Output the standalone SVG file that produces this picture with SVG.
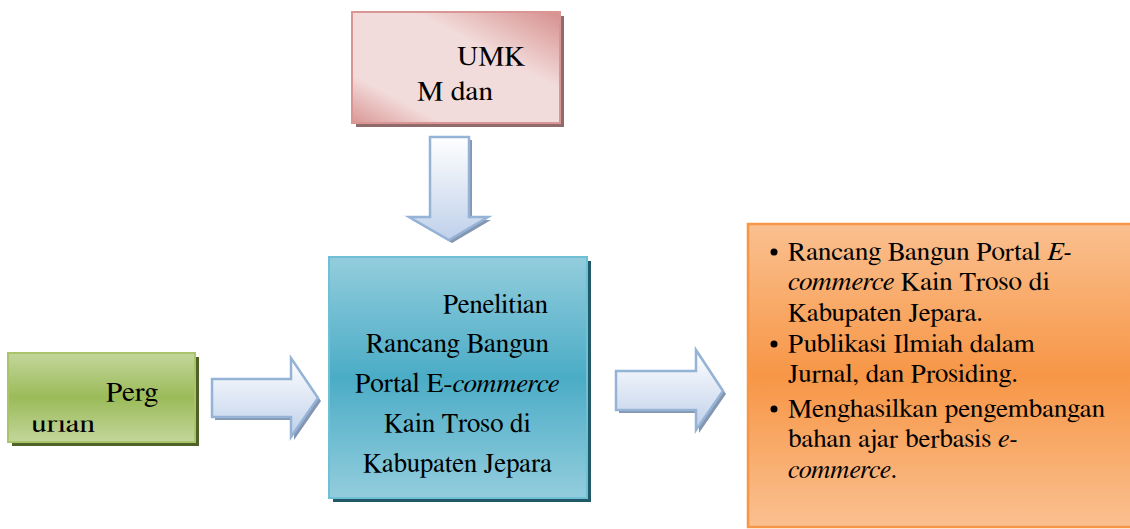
<svg xmlns="http://www.w3.org/2000/svg" width="1130" height="529" viewBox="0 0 1130 529">
<style>
text{fill:#000;font-family:FreeSerif,'DejaVu Serif Condensed','DejaVu Serif',serif}
.c{font-size:26.7px}
.o{font-size:26px}
.arrow{stroke:#95b3d7;stroke-width:2.5;stroke-linejoin:miter}
.ash{fill:#8496b0}
</style>
<defs>
<linearGradient id="gPink" x1="0" y1="1" x2="1" y2="0">
<stop offset="0" stop-color="#d99694"/>
<stop offset="0.22" stop-color="#f2dcdb"/>
<stop offset="0.65" stop-color="#f2dcdb"/>
<stop offset="1" stop-color="#d68f8d"/>
</linearGradient>
<linearGradient id="gGreen" x1="0" y1="0" x2="0" y2="1">
<stop offset="0" stop-color="#c3d69b"/>
<stop offset="0.5" stop-color="#9bbb59"/>
<stop offset="1" stop-color="#c3d69b"/>
</linearGradient>
<linearGradient id="gBlue" x1="0" y1="0" x2="0" y2="1">
<stop offset="0" stop-color="#93cddd"/>
<stop offset="0.5" stop-color="#4bacc6"/>
<stop offset="1" stop-color="#93cddd"/>
</linearGradient>
<linearGradient id="gOrange" x1="0" y1="0" x2="0" y2="1">
<stop offset="0" stop-color="#fac090"/>
<stop offset="0.5" stop-color="#f79646"/>
<stop offset="1" stop-color="#fac090"/>
</linearGradient>
<linearGradient id="gArrow" x1="0" y1="0" x2="0" y2="1">
<stop offset="0" stop-color="#ffffff"/>
<stop offset="1" stop-color="#bfd0ea"/>
</linearGradient>
<clipPath id="clipUrian"><rect x="20" y="420.5" width="100" height="14"/></clipPath>
</defs>

<g id="connectors">
<g id="arrow-down">
<polygon class="ash" points="433,140 472,140 472,220 491,220 452,243 412,220 433,220"/>
<polygon class="arrow" fill="url(#gArrow)" points="430,137 469,137 469,217 488,217 449,240 409,217 430,217"/>
</g>
<g id="arrow-left">
<polygon class="ash" points="215,382 294,382 294,361 321,401 294,440 294,420 215,420"/>
<polygon class="arrow" fill="url(#gArrow)" points="212,379 291,379 291,358 318,398 291,437 291,417 212,417"/>
</g>
<g id="arrow-right">
<polygon class="ash" points="619,374 699,374 699,353 726,394 699,433 699,413 619,413"/>
<polygon class="arrow" fill="url(#gArrow)" points="616,371 696,371 696,350 723,391 696,430 696,410 616,410"/>
</g>
</g>

<g id="node-umkm">
<rect x="356" y="16" width="208" height="111" fill="#8f6b6b"/>
<rect x="352" y="12" width="208" height="111" fill="url(#gPink)" stroke="#d99694" stroke-width="2"/>
<text x="457" y="65" font-size="28" textLength="68" lengthAdjust="spacingAndGlyphs">UMK</text>
<text x="417" y="100" font-size="28" textLength="76" lengthAdjust="spacingAndGlyphs">M dan</text>
</g>

<g id="node-perguruan">
<rect x="12" y="357" width="187" height="89" fill="#4f6228"/>
<rect x="8" y="353" width="187" height="89" fill="url(#gGreen)" stroke="#a9c46a" stroke-width="2"/>
<text x="106" y="401" font-size="28" textLength="52" lengthAdjust="spacingAndGlyphs">Perg</text>
<text x="31" y="432" font-size="28" textLength="64" lengthAdjust="spacingAndGlyphs" clip-path="url(#clipUrian)">urian</text>
</g>

<g id="node-penelitian">
<rect x="333" y="261" width="258" height="241" fill="#215968"/>
<rect x="329" y="257" width="258" height="241" fill="url(#gBlue)" stroke="#6fc0d5" stroke-width="2"/>
<text class="c" x="443" y="313" textLength="105" lengthAdjust="spacingAndGlyphs">Penelitian</text>
<text class="c" x="366" y="352" textLength="183" lengthAdjust="spacingAndGlyphs">Rancang Bangun</text>
<text class="c" x="355" y="392" textLength="204" lengthAdjust="spacingAndGlyphs">Portal E-<tspan font-style="italic">commerce</tspan></text>
<text class="c" x="384" y="432" textLength="147" lengthAdjust="spacingAndGlyphs">Kain Troso di</text>
<text class="c" x="363" y="472" textLength="189" lengthAdjust="spacingAndGlyphs">Kabupaten Jepara</text>
</g>

<g id="node-hasil">
<rect x="748" y="224" width="390" height="303" fill="url(#gOrange)" stroke="#f79646" stroke-width="2.5"/>
<circle cx="774" cy="252" r="3.5" fill="#000"/>
<circle cx="774" cy="344" r="3.5" fill="#000"/>
<circle cx="774" cy="409" r="3.5" fill="#000"/>
<text class="o" x="788" y="260" textLength="284" lengthAdjust="spacingAndGlyphs">Rancang Bangun Portal <tspan font-style="italic">E-</tspan></text>
<text class="o" x="788" y="290" textLength="262" lengthAdjust="spacingAndGlyphs"><tspan font-style="italic">commerce</tspan> Kain Troso di</text>
<text class="o" x="788" y="321" textLength="195" lengthAdjust="spacingAndGlyphs">Kabupaten Jepara.</text>
<text class="o" x="788" y="352" textLength="247" lengthAdjust="spacingAndGlyphs">Publikasi Ilmiah dalam</text>
<text class="o" x="788" y="382" textLength="230" lengthAdjust="spacingAndGlyphs">Jurnal, dan Prosiding.</text>
<text class="o" x="788" y="417" textLength="317" lengthAdjust="spacingAndGlyphs">Menghasilkan pengembangan</text>
<text class="o" x="788" y="447" textLength="230" lengthAdjust="spacingAndGlyphs">bahan ajar berbasis <tspan font-style="italic">e-</tspan></text>
<text class="o" x="788" y="478" textLength="109" lengthAdjust="spacingAndGlyphs"><tspan font-style="italic">commerce</tspan>.</text>
</g>
</svg>
